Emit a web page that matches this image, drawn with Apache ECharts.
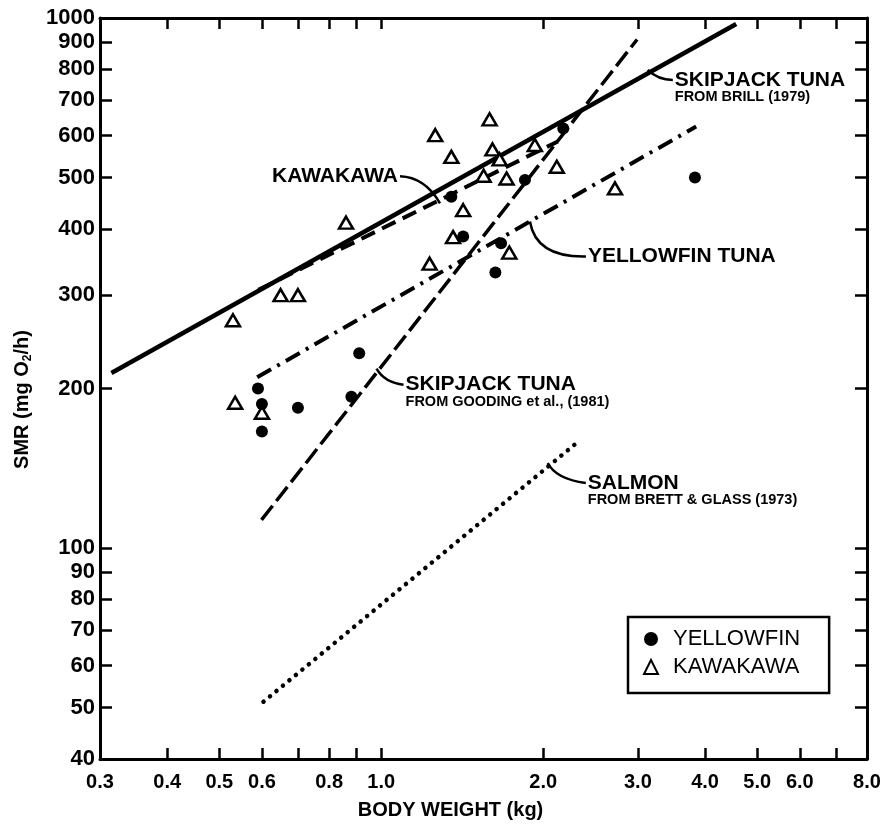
<!DOCTYPE html>
<html>
<head>
<meta charset="utf-8">
<title>SMR vs body weight</title>
<script src="https://cdn.jsdelivr.net/npm/echarts@6/dist/echarts.min.js"></script>
<style>
  html, body { margin: 0; padding: 0; background: #fff; }
  #main { width: 888px; height: 826px; }
</style>
</head>
<body>
<div id="main"></div>
<script>
// 测点 (体重 kg, SMR mg O2/h)
const yellowfinWeight = [1.35, 1.85, 2.18, 1.42, 1.67, 1.63, 0.91, 0.59, 0.60, 0.70, 0.60, 0.88, 3.83];
const yellowfinSmr    = [460,  495,  619,  387,  376,  331,  233,  200,  187,  184,  166,  193,  500];
const kawakawaWeight = [1.26, 1.35, 0.86, 1.36, 1.23, 0.65, 0.70, 0.53, 1.59, 1.61, 1.66, 1.93, 2.12, 1.55, 1.71, 2.72, 1.42, 1.73, 0.535, 0.60];
const kawakawaSmr    = [601,  547,  411,  386,  344,  300,  300,  269,  644,  565,  541,  576,  524,  504,  498,  477,  434,  361,  188,   180];

// 回归线端点
const brillLine     = [[0.315, 214], [4.57, 974]];
const kawakawaLine  = [[0.591, 307], [2.13, 585]];
const yellowfinLine = [[0.588, 210], [3.85, 624]];
const goodingLine   = [[0.599, 113], [2.99, 911]];
const salmonLine    = [[0.604, 51.3], [2.31, 158]];

// 刻度
const xTicks  = [0.3, 0.4, 0.5, 0.6, 0.7, 0.8, 0.9, 1, 2, 3, 4, 5, 6, 7, 8];
const xLabels = [0.3, 0.4, 0.5, 0.6, 0.8, 1, 2, 3, 4, 5, 6, 8];
const yTicks  = [40, 50, 60, 70, 80, 90, 100, 200, 300, 400, 500, 600, 700, 800, 900, 1000];

const FONT = "'Liberation Sans', Arial, sans-serif";

function zip(xs, ys) {
  return xs.map((x, i) => [x, ys[i]]);
}

function xAxisCfg(pos) {
  return {
    type: 'log', logBase: 10, min: 0.3, max: 8, position: pos,
    axisLine: { lineStyle: { color: '#000', width: 3 } },
    axisTick: { inside: true, length: 11, customValues: xTicks, lineStyle: { color: '#000', width: 2.5 } },
    axisLabel: {
      show: pos === 'bottom', customValues: xLabels, margin: 13,
      color: '#000', fontSize: 20, fontWeight: 'bold', fontFamily: FONT,
      formatter: v => Number(v).toFixed(1)
    },
    splitLine: { show: false }
  };
}
function yAxisCfg(pos) {
  return {
    type: 'log', logBase: 10, min: 40, max: 1000, position: pos,
    axisLine: { lineStyle: { color: '#000', width: 3 } },
    axisTick: { inside: true, length: 12, customValues: yTicks, lineStyle: { color: '#000', width: 2.5 } },
    axisLabel: {
      show: pos === 'left', customValues: yTicks, margin: 5,
      color: '#000', fontSize: 22, fontWeight: 'bold', fontFamily: FONT,
      formatter: v => String(Math.round(v))
    },
    splitLine: { show: false }
  };
}

function lineSeries(name, data, width, type, cap) {
  return {
    name: name, type: 'line', data: data, symbol: 'none', silent: true, z: 2,
    lineStyle: { color: '#000', width: width, type: type, cap: cap || 'butt', opacity: 1 }
  };
}

const xBottom = xAxisCfg('bottom');
xBottom.name = 'BODY WEIGHT (kg)';
xBottom.nameLocation = 'middle';
xBottom.nameGap = 41;
xBottom.nameTextStyle = { color: '#000', fontSize: 20, fontWeight: 'bold', fontFamily: FONT, padding: [0, 66, 0, 0] };

const yLeft = yAxisCfg('left');
yLeft.name = 'SMR (mg O{s|2}/h)';
yLeft.nameLocation = 'middle';
yLeft.nameRotate = 90;
yLeft.nameGap = 66;
yLeft.nameTextStyle = {
  color: '#000', fontSize: 20, fontWeight: 'bold', fontFamily: FONT, lineHeight: 24, padding: [0, 22, 0, 0],
  rich: { s: { fontSize: 12, fontWeight: 'bold', fontFamily: FONT, lineHeight: 12, verticalAlign: 'bottom' } }
};

const myChart = echarts.init(document.getElementById('main'));
const option = {
  backgroundColor: '#fff',
  animation: false,
  grid: { left: 100, right: 21, top: 18, bottom: 67 },
  xAxis: [xBottom, xAxisCfg('top')],
  yAxis: [yLeft, yAxisCfg('right')],
  legend: {
    data: ['YELLOWFIN', 'KAWAKAWA'],
    orient: 'vertical', left: 628, top: 617,
    padding: [11, 29, 15, 15], itemGap: 6, itemWidth: 14, itemHeight: 14,
    borderColor: '#000', borderWidth: 2.5, selectedMode: false,
    textStyle: { color: '#000', fontSize: 22, fontFamily: FONT, padding: [0, 0, 0, 10] }
  },
  series: [
    lineSeries('brill', brillLine, 4.5, 'solid'),
    lineSeries('kawakawa fit', kawakawaLine, 4, [15, 8]),
    lineSeries('yellowfin fit', yellowfinLine, 4, [16, 7, 3, 7]),
    lineSeries('gooding', goodingLine, 3.5, [18, 6]),
    lineSeries('salmon', salmonLine, 4.5, [0.1, 8.3], 'round'),
    {
      name: 'YELLOWFIN', type: 'scatter', data: zip(yellowfinWeight, yellowfinSmr), z: 4,
      symbol: 'circle', symbolSize: 12, itemStyle: { color: '#000', opacity: 1 }
    },
    {
      name: 'KAWAKAWA', type: 'scatter', data: zip(kawakawaWeight, kawakawaSmr), z: 3,
      symbol: 'triangle', symbolSize: [14, 12],
      itemStyle: { color: '#fff', borderColor: '#000', borderWidth: 2.5, opacity: 1 }
    }
  ]
};
myChart.setOption(option);

// 注释: at = 线上连接点 (数据坐标), 其余为像素偏移
const notes = [
  { at: [3.13, 798], tx: 27, ty: 10, c: [10, 10], title: 'SKIPJACK TUNA', sub: 'FROM BRILL (1979)', align: 'left' },
  { at: [1.286, 447], tx: -42, ty: -27, c: [-15, -26], title: 'KAWAKAWA', align: 'right' },
  { at: [1.89, 413], tx: 58, ty: 35, c: [6, 36], title: 'YELLOWFIN TUNA', align: 'left' },
  { at: [0.98, 218], tx: 29, ty: 16, c: [8, 14], title: 'SKIPJACK TUNA', sub: 'FROM GOODING et al., (1981)', align: 'left' },
  { at: [2.04, 144.7], tx: 40, ty: 20, c: [8, 16], title: 'SALMON', sub: 'FROM BRETT & GLASS (1973)', align: 'left' }
];

const graphics = [];
notes.forEach(n => {
  const p = myChart.convertToPixel({ gridIndex: 0 }, n.at);
  const ex = p[0] + n.tx + (n.align === 'left' ? -2 : 2);
  const ey = p[1] + n.ty;
  graphics.push({
    type: 'bezierCurve', silent: true,
    shape: { x1: p[0], y1: p[1], x2: ex, y2: ey, cpx1: p[0] + n.c[0], cpy1: p[1] + n.c[1] },
    style: { stroke: '#000', lineWidth: 2.5, fill: 'none' }
  });
  graphics.push({
    type: 'text', silent: true,
    style: {
      text: n.title, x: p[0] + n.tx, y: p[1] + n.ty,
      fill: '#000', font: 'bold 21px ' + FONT,
      textAlign: n.align, textVerticalAlign: 'middle'
    }
  });
  if (n.sub) {
    graphics.push({
      type: 'text', silent: true,
      style: {
        text: n.sub, x: p[0] + n.tx, y: p[1] + n.ty + 17,
        fill: '#000', font: 'bold 14.5px ' + FONT,
        textAlign: n.align, textVerticalAlign: 'middle'
      }
    });
  }
});
myChart.setOption({ graphic: graphics });

window.addEventListener('resize', function () {
  myChart.resize();
});
</script>
</body>
</html>
